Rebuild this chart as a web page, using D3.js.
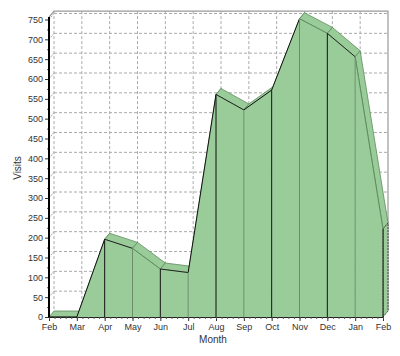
<!DOCTYPE html>
<html><head><meta charset="utf-8">
<script src="https://cdn.jsdelivr.net/npm/d3@7"></script>
<style>body{margin:0;background:#fff}svg{display:block}text{font-family:"Liberation Sans",Arial,sans-serif;fill:#333}</style>
</head><body>
<svg id="c" width="400" height="356"></svg>
<script>
const months = ["Feb","Mar","Apr","May","Jun","Jul","Aug","Sep","Oct","Nov","Dec","Jan","Feb"];
const visits = [0,0,196,173,121,112,561,522,572,752,715,656,222];
const yTicks = [0,50,100,150,200,250,300,350,400,450,500,550,600,650,700,750];

const svg = d3.select("#c");
const DX = 5, DY = -6;
const x = d3.scaleLinear().domain([0, months.length - 1]).range([49, 383]);
const y = d3.scaleLinear().domain([0, 750]).range([317, 19.5]);
const topV = 756;
const fill = "#99cc99", dark = "#5e8c5e";

// back wall grid
const g = svg.append("g");
yTicks.slice(1).forEach(v => {
  g.append("line").attr("x1", x(0)+DX).attr("x2", x(12)+DX).attr("y1", y(v)+DY).attr("y2", y(v)+DY)
   .attr("stroke", "#aaa").attr("stroke-dasharray", "3,2");
  g.append("line").attr("x1", x(0)).attr("x2", x(0)+DX).attr("y1", y(v)).attr("y2", y(v)+DY)
   .attr("stroke", "#aaa").attr("stroke-dasharray", "2,1");
});
d3.range(0, 12).forEach(i => {
  g.append("line").attr("x1", x(i)+DX).attr("x2", x(i)+DX).attr("y1", y(topV)+DY).attr("y2", y(0)+DY)
   .attr("stroke", "#aaa").attr("stroke-dasharray", "3,2");
});
// frame
g.append("path").attr("d", `M${x(0)},${y(topV)}L${x(0)+DX},${y(topV)+DY}L${x(12)+DX},${y(topV)+DY}L${x(12)+DX},${y(0)+DY}`)
 .attr("fill", "none").attr("stroke", "#999").attr("stroke-width", 1.2);

// top faces
const a = svg.append("g");
for (let i = 0; i < visits.length - 1; i++) {
  const x1 = x(i), x2 = x(i+1), y1 = y(visits[i]), y2 = y(visits[i+1]);
  a.append("path").attr("d", `M${x1},${y1}L${x2},${y2}L${x2+DX},${y2+DY}L${x1+DX},${y1+DY}Z`)
   .attr("fill", fill).attr("stroke", dark).attr("stroke-width", 0.8).attr("stroke-linejoin", "round");
}
// right side face
const n = visits.length - 1;
a.append("path").attr("d", `M${x(n)},${y(visits[n])}L${x(n)+DX},${y(visits[n])+DY}L${x(n)+DX},${y(0)+DY}L${x(n)},${y(0)}Z`)
 .attr("fill", fill).attr("stroke", "#222").attr("stroke-width", 0.8).attr("stroke-dasharray", "2,1");
// front faces
for (let i = 0; i < visits.length - 1; i++) {
  const x1 = x(i), x2 = x(i+1), y1 = y(visits[i]), y2 = y(visits[i+1]);
  a.append("path").attr("d", `M${x1},${y(0)}L${x1},${y1}L${x2},${y2}L${x2},${y(0)}Z`)
   .attr("fill", fill).attr("stroke", "none");
  a.append("line").attr("x1", x1).attr("y1", y1).attr("x2", x2).attr("y2", y2)
   .attr("stroke", visits[i+1] >= visits[i] ? "#111" : (i % 2 ? dark : "#222")).attr("stroke-width", 1);
}
// vertical month lines on front
for (let i = 2; i < visits.length; i++) {
  a.append("line").attr("x1", x(i)).attr("x2", x(i)).attr("y1", y(visits[i])).attr("y2", y(0))
   .attr("stroke", i % 2 === 0 ? "#111" : "#6b8f6b").attr("stroke-width", 1);
}

// x axis
const xAxis = d3.axisBottom(x).tickValues(d3.range(0, 13)).tickFormat(i => months[i]).tickSize(4).tickSizeOuter(0).tickPadding(3);
const xg = svg.append("g").attr("transform", `translate(0,${y(0)})`).call(xAxis);
xg.select(".domain").attr("stroke", "#222");
xg.selectAll(".tick line").attr("stroke", "#333");
xg.selectAll("text").attr("font-size", 9).attr("fill", "#333");
const xMinor = d3.axisBottom(x).tickValues(d3.range(0, 12.01, 0.2)).tickFormat("").tickSize(2).tickSizeOuter(0);
svg.append("g").attr("transform", `translate(0,${y(0)})`).call(xMinor)
  .call(s => s.select(".domain").remove()).selectAll(".tick line").attr("stroke", "#555");

// y axis
const yAxis = d3.axisLeft(y).tickValues(yTicks).tickSize(4).tickSizeOuter(0).tickPadding(2);
const yg = svg.append("g").attr("transform", `translate(${x(0)},0)`).call(yAxis);
yg.select(".domain").remove();
yg.selectAll(".tick line").attr("stroke", "#333");
yg.selectAll("text").attr("font-size", 9).attr("fill", "#333");
const yMinor = d3.axisLeft(y).tickValues(d3.range(25, 750, 50)).tickFormat("").tickSize(2).tickSizeOuter(0);
svg.append("g").attr("transform", `translate(${x(0)},0)`).call(yMinor)
  .call(s => s.select(".domain").remove()).selectAll(".tick line").attr("stroke", "#555");
svg.append("line").attr("x1", x(0)).attr("x2", x(0)).attr("y1", y(topV)).attr("y2", y(0)+0.5)
  .attr("stroke", "#000").attr("stroke-width", 2);

// titles
svg.append("text").attr("x", (x(0)+x(12))/2 - 3).attr("y", 343).attr("text-anchor", "middle").attr("font-size", 10).text("Month");
svg.append("text").attr("transform", "translate(21,168) rotate(-90)").attr("text-anchor", "middle").attr("font-size", 10).text("Visits");
</script>
</body></html>
